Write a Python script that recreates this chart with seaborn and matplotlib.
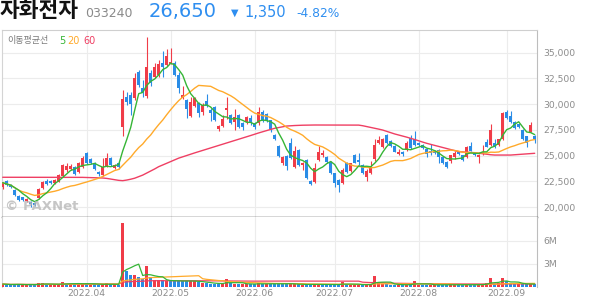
import numpy as np
import pandas as pd
import matplotlib
matplotlib.use("Agg")
import matplotlib.pyplot as plt
import seaborn as sns

# ------------------------------------------------------------------ data
opens = [21970, 22500, 22110, 21650, 21100, 20940, 20580, 20520, 20390, 20840,
         21820, 22560, 22560, 22300, 22460, 23010, 23550, 23700, 23840, 23430,
         23840, 25280, 24710, 24250, 23430, 23110, 23990, 24730, 23760, 24300,
         27750, 30720, 30890, 30565, 33150, 31540, 30790, 33000, 32660, 32830,
         33970, 33800, 33930, 34000, 32830, 30570, 30400, 28850, 29820, 30080,
         29260, 30330, 29430, 29720, 27550, 27900, 29400, 28940, 28290, 28940,
         28190, 28290, 28620, 28190, 28140, 29260, 29000, 28450, 26990, 25930,
         24250, 24950, 26200, 23910, 25540, 24080, 24570, 22560, 22460, 24570,
         25050, 24830, 24400, 23280, 22620, 22300, 24250, 23530, 25050, 24570,
         24080, 22930, 23330, 24640, 26190, 25860, 27000, 26420, 25930, 25120,
         25380, 25540, 26680, 26580, 26190, 26030, 25610, 25470, 25470, 25540,
         24850, 24400, 24500, 24890, 25380, 25050, 24890, 25930, 25280, 24890,
         25150, 26350, 26030, 26250, 26030, 26580, 29260, 28850, 28290, 28040,
         27480, 26900, 27320, 26900]
highs = [22450, 22600, 22200, 21750, 21150, 21000, 20850, 20600, 20450, 21800,
         22560, 22700, 22650, 22700, 23200, 24150, 24300, 24200, 23950, 24400,
         24960, 25380, 24800, 24350, 23500, 24730, 25220, 24850, 24200, 24400,
         31370, 31210, 31180, 33025, 33320, 32340, 36490, 33320, 34000, 34290,
         35190, 35330, 35430, 34190, 33120, 31760, 30500, 30720, 30720, 30200,
         30100, 31000, 29600, 29800, 27950, 28900, 30650, 29050, 29500, 29050,
         28250, 28850, 28950, 28250, 29690, 29450, 29100, 28500, 27100, 26000,
         25000, 25050, 26700, 25900, 25600, 24400, 24650, 22650, 24300, 25930,
         25500, 24950, 24450, 23350, 22700, 23800, 24350, 24300, 25150, 25220,
         24200, 23650, 24470, 26580, 26900, 26700, 27100, 26500, 26000, 25610,
         25450, 26400, 27000, 27420, 26300, 26100, 25700, 26120, 25550, 25600,
         24950, 24450, 25100, 25400, 25450, 25100, 25950, 26350, 25350, 25150,
         26030, 26600, 28070, 26600, 26650, 29240, 29450, 29360, 28350, 28100,
         27550, 26950, 28260, 26990]
lows = [21720, 22050, 21850, 21050, 20600, 20600, 20450, 20030, 20100, 20750,
        21750, 22100, 22250, 22200, 22400, 22950, 23450, 23600, 23100, 23300,
        23750, 24150, 24200, 23600, 23050, 23050, 23900, 24000, 23700, 23700,
        26900, 29910, 28940, 30400, 31660, 30720, 30600, 31760, 32540, 32640,
        32660, 33700, 33900, 32700, 31050, 30450, 28650, 28750, 29700, 28780,
        28900, 29700, 28390, 28360, 27400, 27800, 28550, 28100, 27480, 27650,
        27480, 28100, 27950, 27600, 27950, 28300, 28300, 27300, 26490, 24900,
        24100, 23550, 24700, 23800, 24000, 23600, 22700, 22100, 22350, 24450,
        24900, 24250, 23200, 21970, 21490, 22200, 23350, 23450, 24250, 24080,
        23250, 22560, 23250, 24500, 26100, 25750, 26150, 25850, 25300, 25050,
        25000, 25450, 25600, 25950, 25900, 25600, 24900, 25100, 25200, 24250,
        24200, 23800, 24300, 24700, 25100, 24500, 24800, 25400, 25000, 24300,
        25100, 25800, 25950, 25750, 25950, 26500, 28550, 28200, 27600, 27700,
        26500, 25800, 27250, 26190]
closes = [22360, 22110, 21910, 21150, 20650, 20680, 20780, 20290, 20190, 21720,
          22460, 22240, 22300, 22620, 23110, 24080, 23990, 23990, 23210, 24230,
          24760, 24250, 24300, 23660, 23210, 23920, 24730, 24080, 24080, 23860,
          30470, 30235, 30010, 32510, 31860, 31050, 33640, 32020, 33640, 33870,
          33580, 34680, 34120, 32830, 31570, 30890, 29525, 30235, 30565, 29110,
          29910, 29820, 29170, 28460, 27850, 28600, 29650, 28190, 28720, 27740,
          27800, 28720, 28140, 27800, 29260, 28390, 28400, 27600, 26580, 24960,
          24890, 24000, 24800, 25410, 24080, 24300, 22800, 22240, 23760, 25380,
          25280, 24400, 23280, 22300, 22140, 23600, 23430, 24250, 24300, 24400,
          23330, 23530, 23990, 26030, 26510, 26580, 26250, 25930, 25380, 25380,
          25120, 26250, 25700, 26030, 26030, 25700, 25150, 25220, 25280, 24890,
          24300, 23860, 25050, 25220, 25150, 24570, 25860, 25470, 25050, 25050,
          25380, 25860, 27480, 25800, 26580, 29110, 28620, 28290, 27650, 27750,
          26580, 26190, 28000, 26650]
volumes_k = [380, 330, 280, 350, 380, 300, 260, 330, 320, 480,
             520, 320, 260, 290, 420, 640, 420, 350, 380, 440,
             520, 470, 320, 330, 280, 380, 470, 350, 260, 320,
             8400, 2100, 1500, 1550, 1350, 1000, 2700, 1350, 900, 850,
             850, 800, 800, 780, 800, 750, 780, 800, 760, 600,
             550, 500, 450, 430, 420, 450, 1050, 480, 430, 420,
             400, 380, 350, 370, 560, 400, 350, 370, 430, 560,
             400, 380, 370, 350, 330, 310, 350, 350, 330, 370,
             330, 300, 310, 350, 310, 600, 330, 310, 300, 290,
             300, 310, 350, 1430, 640, 430, 350, 310, 300, 290,
             270, 300, 350, 780, 310, 290, 280, 300, 270, 290,
             280, 300, 330, 300, 270, 280, 350, 310, 280, 290,
             350, 580, 1130, 450, 500, 1130, 720, 500, 450, 350,
             400, 350, 450, 350]
ma60_price = [22890, 22890, 22890, 22900, 22900, 22900, 22900, 22900, 22900, 22900,
              22900, 22900, 22900, 22900, 22900, 22900, 22900, 22890, 22890, 22880,
              22880, 22870, 22860, 22850, 22840, 22820, 22780, 22720, 22650, 22590,
              22560, 22620, 22700, 22800, 22950, 23100, 23300, 23500, 23700, 23920,
              24080, 24250, 24420, 24580, 24750, 24880, 25000, 25130, 25260, 25380,
              25500, 25620, 25740, 25860, 25980, 26100, 26220, 26340, 26460, 26580,
              26710, 26830, 26950, 27080, 27200, 27320, 27430, 27540, 27650, 27720,
              27800, 27870, 27900, 27920, 27940, 27950, 27960, 27970, 27970, 27970,
              27970, 27970, 27970, 27970, 27970, 27970, 27970, 27970, 27970, 27960,
              27900, 27820, 27750, 27660, 27570, 27480, 27350, 27230, 27100, 27000,
              26890, 26790, 26680, 26560, 26430, 26310, 26190, 26090, 25990, 25890,
              25790, 25690, 25590, 25480, 25380, 25350, 25330, 25300, 25280, 25230,
              25180, 25130, 25080, 25050, 25050, 25050, 25050, 25050, 25080, 25100,
              25130, 25160, 25190, 25220]
month_idx = [21, 42, 63, 83, 104, 126]
month_labels = ["2022.04", "2022.05", "2022.06", "2022.07", "2022.08", "2022.09"]
price_ticks = [20000, 22500, 25000, 27500, 30000, 32500, 35000]
vol_ticks = [3_000_000, 6_000_000]
vol_tick_labels = ["3M", "6M"]
stock_name = "자화전자"
stock_code = "033240"
last_price = "26,650"
change = "1,350"
change_pct = "-4.82%"
ma_legend = "이동평균선"
ma_periods = ["5", "20", "60"]

# ------------------------------------------------------------------ style
RED = "#f03c48"
BLUE = "#2a8ce6"
G5 = "#36b536"
O20 = "#ffaa2b"
R60 = "#ef3f63"
GRID = "#ececec"
TICK = "#8c8c8c"
TXTBLUE = "#2e8ef0"

sns.set_theme(style="white")
plt.rcParams["font.family"] = ["DejaVu Sans", "Noto Sans CJK KR"]
KR = ["Noto Sans CJK KR", "DejaVu Sans"]

n = len(closes)
df = pd.DataFrame({"idx": np.arange(n), "open": opens, "high": highs,
                   "low": lows, "close": closes})
df["volume"] = np.array(volumes_k, dtype=float) * 1000
df["ma5"] = df["close"].rolling(5, min_periods=1).mean()
df["ma20"] = df["close"].rolling(20, min_periods=1).mean()
df["ma60"] = ma60_price
df["v5"] = df["volume"].rolling(5, min_periods=1).mean()
df["v20"] = df["volume"].rolling(20, min_periods=1).mean()
df["v60"] = df["volume"].rolling(60, min_periods=1).mean()
up = df["close"] >= df["open"]
ccol = np.where(up, RED, BLUE)
prev = df["close"].shift(1).fillna(df["open"])
df["vdir"] = np.where(df["close"] >= prev, "up", "down")

W, H = 594, 304
fig = plt.figure(figsize=(W / 100, H / 100), dpi=100)
fig.patch.set_facecolor("white")
L, R = 1.5, 537.0
axp = fig.add_axes([L / W, 1 - 217 / H, (R - L) / W, (217 - 30) / H])
axv = fig.add_axes([L / W, 1 - 287 / H, (R - L) / W, (287 - 217) / H])

# ---- candles
axp.vlines(df["idx"], df["low"], df["high"], colors=ccol, linewidth=0.8, zorder=3)
body_h = (df["close"] - df["open"]).abs().clip(lower=70)
body_b = np.minimum(df["open"], df["close"])
axp.bar(df["idx"], body_h, bottom=body_b, width=0.72, color=ccol,
        linewidth=0, edgecolor="none", zorder=4)

# ---- moving averages
for col, c in (("ma60", R60), ("ma20", O20), ("ma5", G5)):
    sns.lineplot(data=df, x="idx", y=col, color=c, linewidth=1.0, ax=axp,
                 estimator=None, zorder=5)

# ---- volume (categorical positions 0..n-1 == idx)
sns.barplot(data=df, x="idx", y="volume", hue="vdir",
            palette={"up": RED, "down": BLUE}, dodge=False,
            width=0.75, saturation=1, legend=False, errorbar=None, ax=axv,
            linewidth=0, edgecolor="none", zorder=3)
for col, c in (("v60", R60), ("v20", O20), ("v5", G5)):
    sns.lineplot(x=df["idx"].to_numpy(), y=df[col].to_numpy(), color=c,
                 linewidth=0.9, ax=axv, estimator=None, zorder=5)

# ---- axes cosmetics
for ax in (axp, axv):
    ax.set_xlim(-0.3, 133.575)
    ax.set_xticks(month_idx)
    ax.set_axisbelow(True)
    ax.grid(True, color=GRID, linewidth=0.8)
    ax.yaxis.tick_right()
    ax.tick_params(length=0, labelsize=6.7, colors=TICK, pad=4.3)
    ax.set_xlabel("")
    ax.set_ylabel("")
    ax.set_facecolor("white")
    for s in ax.spines.values():
        s.set_linewidth(0.8)
    ax.spines["left"].set_color("#d4d4d4")
    ax.spines["right"].set_color("#bdbdbd")

axp.set_ylim(19028, 37205)
axp.set_yticks(price_ticks)
axp.set_yticklabels([f"{v:,}" for v in price_ticks])
axp.tick_params(axis="x", labelbottom=False)
axp.spines["top"].set_color("#cfcfcf")
axp.spines["bottom"].set_color("#333333")
axp.spines["bottom"].set_linewidth(1.0)

axv.set_ylim(0, 9.13e6)
axv.set_yticks(vol_ticks)
axv.set_yticklabels(vol_tick_labels)
axv.set_xticks(month_idx)
axv.set_xticklabels(month_labels)
axv.tick_params(axis="x", pad=1.5)
axv.spines["top"].set_visible(False)
axv.spines["bottom"].set_visible(False)

# ---- watermark
fig.text(5 / W, 1 - 207 / H, "© PAXNet", fontsize=9.5, fontweight="bold",
         color="#b4b4b4", alpha=0.75, va="center", ha="left", zorder=2)

# ---- MA legend
fig.text(7 / W, 1 - 41 / H, ma_legend, family=KR, fontsize=6.5, color="#7a7a7a",
         va="center", ha="left")
for txt, x, c in zip(ma_periods, (59.5, 67.5, 83), (G5, O20, R60)):
    fig.text(x / W, 1 - 41 / H, txt, fontsize=7, color=c, va="center", ha="left")

# ---- header
base = 1 - 16.8 / H
fig.text(0 / W, base, stock_name, family=KR, fontsize=15.5, fontweight="bold",
         color="#111111", va="baseline", ha="left")
fig.text(85 / W, base, stock_code, fontsize=9, color="#8a8a8a",
         va="baseline", ha="left")
fig.text(149 / W, base, last_price, fontsize=14, color=TXTBLUE,
         va="baseline", ha="left")
fig.text(231 / W, 1 - 12.5 / H, "▼", fontsize=7, color=TXTBLUE,
         va="center", ha="left")
fig.text(244 / W, base, change, fontsize=10.5, color=TXTBLUE,
         va="baseline", ha="left")
fig.text(296 / W, base, change_pct, fontsize=8.8, color=TXTBLUE,
         va="baseline", ha="left")

fig.savefig("out.png", dpi=100, facecolor="white")
